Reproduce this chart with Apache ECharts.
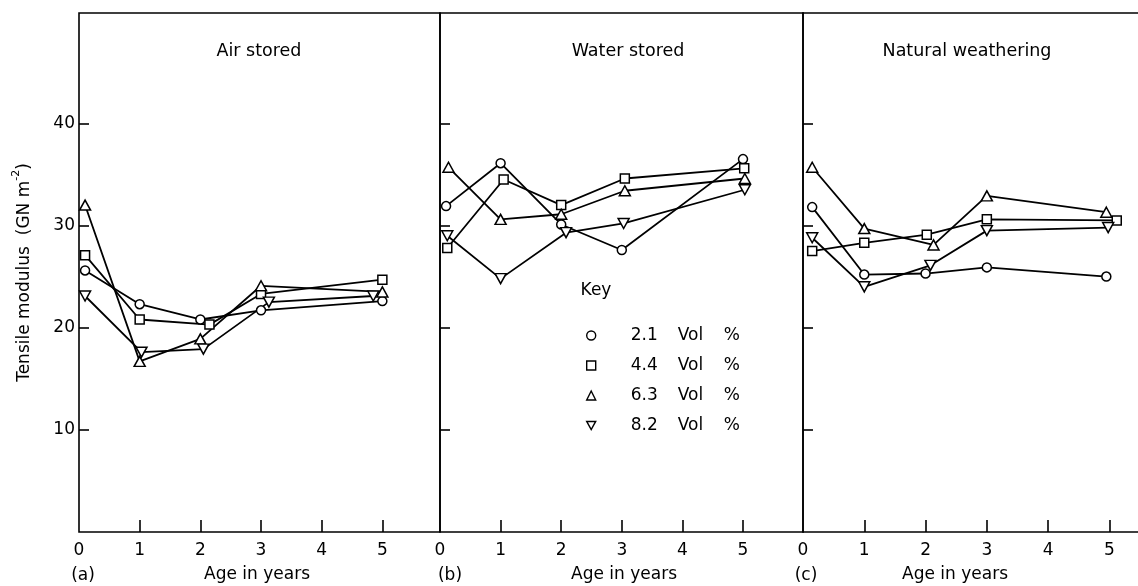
<!DOCTYPE html>
<html>
<head>
<meta charset="utf-8">
<script src="https://cdn.jsdelivr.net/npm/echarts@6/dist/echarts.min.js"></script>
<style>
  html, body { margin: 0; padding: 0; background: #fff; overflow: hidden; }
  #chart { width: 1138px; height: 586px; }
</style>
</head>
<body>
<div id="chart"></div>
<script>
// Tensile modulus (GN m^-2) against age in years, three storage conditions
const panelTitles = ['Air stored', 'Water stored', 'Natural weathering'];
const panelLetters = ['(a)', '(b)', '(c)'];
const xTitle = 'Age in years';
const fibreContents = ['2.1', '4.4', '6.3', '8.2'];   // Vol %
const yTickValues = [10, 20, 30, 40];
const xTickValues = [1, 2, 3, 4, 5];
const xLabelValues = [0, 1, 2, 3, 4, 5];

// (a) Air stored
const airAge21 = [0.1, 1, 2, 3, 5];
const airMod21 = [25.6, 22.3, 20.8, 21.7, 22.6];
const airAge44 = [0.1, 1, 2.15, 3, 5];
const airMod44 = [27.1, 20.8, 20.3, 23.3, 24.7];
const airAge63 = [0.1, 1, 2, 3, 5];
const airMod63 = [32.0, 16.7, 18.9, 24.1, 23.5];
const airAge82 = [0.1, 1.03, 2.05, 3.13, 4.85];
const airMod82 = [23.1, 17.6, 17.9, 22.5, 23.1];

// (b) Water stored
const waterAge21 = [0.1, 1, 2, 3, 5];
const waterMod21 = [31.9, 36.1, 30.1, 27.6, 36.5];
const waterAge44 = [0.12, 1.05, 2, 3.05, 5.02];
const waterMod44 = [27.8, 34.5, 32.0, 34.6, 35.6];
const waterAge63 = [0.14, 1, 2, 3.05, 5.03];
const waterMod63 = [35.7, 30.6, 31.1, 33.4, 34.6];
const waterAge82 = [0.12, 1, 2.08, 3.03, 5.03];
const waterMod82 = [29.0, 24.8, 29.3, 30.2, 33.5];

// (c) Natural weathering
const natAge21 = [0.15, 1, 2, 3, 4.95];
const natMod21 = [31.8, 25.2, 25.3, 25.9, 25.0];
const natAge44 = [0.15, 1, 2.02, 3, 5.12];
const natMod44 = [27.5, 28.3, 29.1, 30.6, 30.5];
const natAge63 = [0.15, 1, 2.13, 3, 4.95];
const natMod63 = [35.7, 29.7, 28.1, 32.9, 31.3];
const natAge82 = [0.15, 1, 2.08, 3, 4.98];
const natMod82 = [28.8, 24.0, 26.1, 29.5, 29.8];

const panels = [
  [[airAge21, airMod21], [airAge44, airMod44], [airAge63, airMod63], [airAge82, airMod82]],
  [[waterAge21, waterMod21], [waterAge44, waterMod44], [waterAge63, waterMod63], [waterAge82, waterMod82]],
  [[natAge21, natMod21], [natAge44, natMod44], [natAge63, natMod63], [natAge82, natMod82]]
];

const FONT = 'DejaVu Sans';
const INK = '#000';
const downTriangle = 'path://M0,0L10,0L5,9Z';
const symbols = ['circle', 'rect', 'triangle', downTriangle];
const symbolSizes = [9, 9, [11, 10], [11, 10]];
const frameLine = { show: true, lineStyle: { color: INK, width: 1.6 } };

// panel frames (pixel layout); neighbouring frames share their dividing edge,
// the third frame is open on the right (framed by its axes only)
const grids = [
  { left: 79, width: 361, top: 13, bottom: 54, show: true },
  { left: 440, width: 363, top: 13, bottom: 54, show: true },
  { left: 803, width: 345, top: 13, bottom: 54, show: false }
];
const xMax = [5.95, 5.99, 5.63];

const chart = echarts.init(document.getElementById('chart'), null, { renderer: 'canvas' });

const series = [];
panels.forEach((panel, p) => {
  panel.forEach(([ages, mods], k) => {
    series.push({
      type: 'line',
      name: fibreContents[k],
      xAxisIndex: p,
      yAxisIndex: p,
      data: ages.map((a, i) => [a, mods[i]]),
      symbol: symbols[k],
      symbolSize: symbolSizes[k],
      showSymbol: true,
      lineStyle: { color: INK, width: 1.8 },
      itemStyle: { color: '#fff', borderColor: INK, borderWidth: 1.5 },
      emphasis: { disabled: true },
      animation: false
    });
  });
});

const titles = [];
panelTitles.forEach((t, p) => {
  titles.push({ text: t, left: [259, 628, 967][p], top: 51, textAlign: 'center', textVerticalAlign: 'middle', padding: 0,
    textStyle: { fontFamily: FONT, fontSize: 17.5, fontWeight: 'normal', color: INK } });
  titles.push({ text: panelLetters[p], left: [83, 450, 806][p], top: 576, textAlign: 'center', textVerticalAlign: 'middle', padding: 0,
    textStyle: { fontFamily: FONT, fontSize: 17, fontWeight: 'normal', color: INK } });
  titles.push({ text: xTitle, left: [257, 624, 955][p], top: 575, textAlign: 'center', textVerticalAlign: 'middle', padding: 0,
    textStyle: { fontFamily: FONT, fontSize: 17, fontWeight: 'normal', color: INK } });
});
titles.push({ text: 'Key', left: 596, top: 291, textAlign: 'center', textVerticalAlign: 'middle', padding: 0,
  textStyle: { fontFamily: FONT, fontSize: 17, fontWeight: 'normal', color: INK } });

const xAxes = grids.map((g, p) => ({
  type: 'value',
  gridIndex: p,
  min: 0,
  max: xMax[p],
  axisLine: p === 2 ? frameLine : { show: false },
  splitLine: { show: false },
  axisTick: { show: true, inside: true, length: 12, customValues: xTickValues, lineStyle: { color: INK, width: 1.6 } },
  axisLabel: { show: true, customValues: xLabelValues, margin: 10, fontFamily: FONT, fontSize: 17, color: INK }
}));
// top edge of the open third frame
xAxes.push({
  type: 'value', gridIndex: 2, position: 'top', min: 0, max: xMax[2],
  axisLine: frameLine, axisTick: { show: false }, axisLabel: { show: false }, splitLine: { show: false }
});

const option = {
  backgroundColor: '#fff',
  animation: false,
  title: titles,
  grid: grids.map(g => Object.assign({
    borderColor: INK, borderWidth: 1.6, backgroundColor: 'transparent',
    containLabel: false, outerBoundsMode: 'none'
  }, g)),
  legend: {
    orient: 'vertical',
    left: 586,
    top: 327,
    padding: 0,
    itemWidth: 9,
    itemHeight: 9,
    itemGap: 13,
    selectedMode: false,
    data: fibreContents.map((n, k) => ({ name: n, icon: symbols[k] })),
    itemStyle: { color: '#fff', borderColor: INK, borderWidth: 1.4 },
    formatter: n => `{s|}{a|${n}}{b|Vol}{c|%}`,
    textStyle: {
      fontFamily: FONT, fontSize: 17, color: INK,
      rich: {
        s: { width: 30, lineHeight: 20 },
        a: { width: 47, fontSize: 17, fontFamily: FONT, color: INK, lineHeight: 20 },
        b: { width: 46, fontSize: 17, fontFamily: FONT, color: INK, lineHeight: 20 },
        c: { fontSize: 17, fontFamily: FONT, color: INK, lineHeight: 20 }
      }
    }
  },
  xAxis: xAxes,
  yAxis: grids.map((g, p) => ({
    type: 'value',
    gridIndex: p,
    min: 0,
    max: 50.8,
    axisLine: p === 2 ? frameLine : { show: false },
    splitLine: { show: false },
    axisTick: { show: true, inside: true, length: 10, customValues: yTickValues, lineStyle: { color: INK, width: 1.6 } },
    axisLabel: { show: p === 0, customValues: yTickValues, margin: 4, fontFamily: FONT, fontSize: 17, color: INK },
    name: p === 0 ? '{a|Tensile modulus  (GN m}{s|-2}{a|)}' : '',
    nameLocation: 'middle',
    nameRotate: 90,
    nameGap: 46,
    nameTextStyle: {
      fontFamily: FONT, fontSize: 17, color: INK,
      rich: {
        a: { fontFamily: FONT, fontSize: 17, color: INK, lineHeight: 22, verticalAlign: 'bottom' },
        s: { fontFamily: FONT, fontSize: 11, color: INK, lineHeight: 14, verticalAlign: 'top' }
      }
    }
  })),
  series: series
};

chart.setOption(option);
</script>
</body>
</html>
